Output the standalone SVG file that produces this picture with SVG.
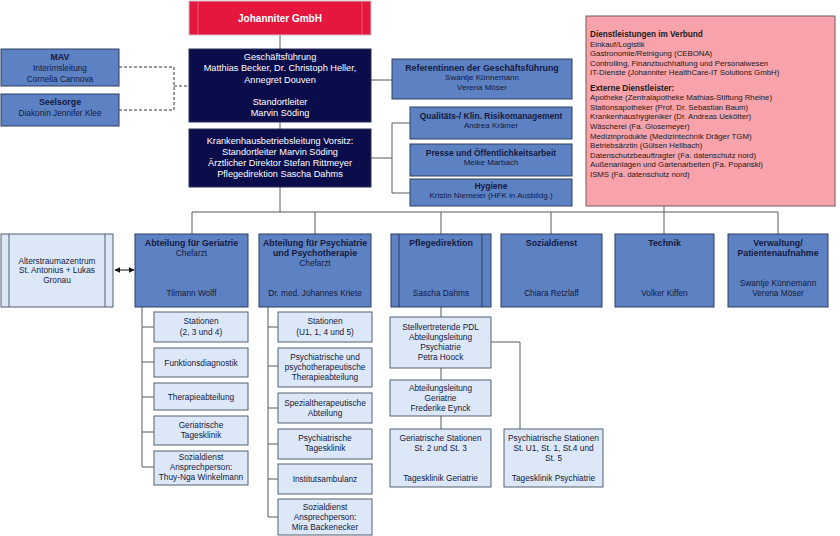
<svg xmlns="http://www.w3.org/2000/svg" width="840" height="536" viewBox="0 0 840 536">
<defs>
<style>
text{font-family:"Liberation Sans",Arial,sans-serif;font-size:8.3px;text-anchor:middle;dominant-baseline:central;fill:#14193f}
.b{font-weight:bold;font-size:8.8px}
.s{font-size:8px}
.w{fill:#ffffff}
.navy{fill:#0b0d4b;stroke:#2a2f55;stroke-width:1}
.mid{fill:#5d82c3;stroke:#2f3d5e;stroke-width:1}
.lite{fill:#dce8f7;stroke:#55606f;stroke-width:1}
.pink{fill:#f8a3ab;stroke:#6b5a5c;stroke-width:1}
.red{fill:#e5173f;stroke:#c9c0c8;stroke-width:1}
.ln{fill:none;stroke:#5a5a5a;stroke-width:1}
.dash{fill:none;stroke:#333;stroke-width:1;stroke-dasharray:3,2}
.pt text{text-anchor:start;font-size:7.8px;fill:#1a1a1a}
</style>
<marker id="ah" viewBox="0 0 10 10" refX="9" refY="5" markerWidth="6" markerHeight="6" orient="auto-start-reverse"><path d="M0,0 L10,5 L0,10 z" fill="#111"/></marker>
</defs>
<rect width="840" height="536" fill="#ffffff"/>

<g id="connectors">
<path class="ln" d="M280,35 V49 M280,122 V129 M280,187 V212 M192,212 H778 M192,212 V234 M315,212 V234 M441,212 V234 M551,212 V234 M664,206 V234 M778,212 V234"/>
<path class="ln" d="M371,80 H392"/>
<path class="ln" d="M371,158 H392 M410,123 H392 V193 H410"/>
<path class="dash" d="M119,67 H174 V110 H119 M174,86 H189"/>
<line x1="115" y1="270" x2="134" y2="270" style="stroke:#111;stroke-width:1" marker-start="url(#ah)" marker-end="url(#ah)"/>
<path class="ln" d="M142,307 V467 M142,327 H154 M142,362 H154 M142,397 H154 M142,432 H154 M142,467 H154"/>
<path class="ln" d="M268,307 V517 M268,327 H278 M268,366 H278 M268,408 H278 M268,444 H278 M268,479 H278 M268,517 H278"/>
<path class="ln" d="M441,307 V317 M441,368 V380 M441,416 V429 M491,342 H520 V429"/>
</g>

<g id="johanniter">
<rect class="red" x="189" y="1" width="182" height="34"/>
<path d="M198,1 V35 M362,1 V35" stroke="#ef6f86" stroke-width="0.8"/>
<text class="b w" x="280" y="18" style="font-size:10px">Johanniter GmbH</text>
</g>

<g id="geschaeftsfuehrung">
<rect class="navy" x="189" y="49" width="182" height="73"/>
<text class="w" x="280" y="57" style="font-size:9.2px">Geschäftsführung</text>
<text class="w" x="280" y="68" style="font-size:9.2px">Matthias Becker, Dr. Christoph Heller,</text>
<text class="w" x="280" y="80" style="font-size:9.2px">Annegret Douven</text>
<text class="w" x="280" y="102" style="font-size:9.2px">Standortleiter</text>
<text class="w" x="280" y="113" style="font-size:9.2px">Marvin Söding</text>
</g>

<g id="kbl">
<rect class="navy" x="189" y="129" width="182" height="58"/>
<text class="w" x="280" y="141" style="font-size:9.2px">Krankenhausbetriebsleitung Vorsitz:</text>
<text class="w" x="280" y="152" style="font-size:9.2px">Standortleiter Marvin Söding</text>
<text class="w" x="280" y="163" style="font-size:9.2px">Ärztlicher Direktor Stefan Rittmeyer</text>
<text class="w" x="280" y="174" style="font-size:9.2px">Pflegedirektion Sascha Dahms</text>
</g>

<g id="mav">
<rect class="mid" x="1" y="49" width="118" height="37"/>
<text class="b" x="60" y="57">MAV</text>
<text x="60" y="68">Interimsleitung</text>
<text x="60" y="79">Cornelia Cannova</text>
</g>

<g id="seelsorge">
<rect class="mid" x="1" y="94" width="118" height="32"/>
<text class="b" x="60" y="102">Seelsorge</text>
<text x="60" y="113">Diakonin Jennifer Klee</text>
</g>

<g id="referentinnen">
<rect class="mid" x="392" y="59" width="180" height="40"/>
<text class="b" x="482" y="67.5">Referentinnen der Geschäftsführung</text>
<text class="s" x="482" y="77.5">Swantje Künnemann</text>
<text class="s" x="482" y="87">Verena Möser</text>
</g>

<g id="qualitaet">
<rect class="mid" x="410" y="107" width="162" height="32"/>
<text class="b" x="491" y="115.5" style="font-size:8.5px">Qualitäts-/ Klin. Risikomanagement</text>
<text class="s" x="491" y="125.5">Andrea Krämer</text>
</g>

<g id="presse">
<rect class="mid" x="410" y="144" width="162" height="32"/>
<text class="b" x="491" y="152.5" style="font-size:8.5px">Presse und Öffentlichkeitsarbeit</text>
<text class="s" x="491" y="162.5">Meike Marbach</text>
</g>

<g id="hygiene">
<rect class="mid" x="410" y="179" width="162" height="27"/>
<text class="b" x="491" y="185.5" style="font-size:8.5px">Hygiene</text>
<text class="s" x="491" y="195.5">Kristin Niemeier (HFK in Ausbildg.)</text>
</g>

<g id="dienstleistungen" class="pt">
<rect class="pink" x="586" y="16" width="249" height="190"/>
<text x="590" y="34" style="font-weight:bold;font-size:8.2px">Dienstleistungen im Verbund</text>
<text x="590" y="44">Einkauf/Logistik</text>
<text x="590" y="53.5">Gastronomie/Reinigung (CEBONA)</text>
<text x="590" y="63">Controlling, Finanzbuchhaltung und Personalwesen</text>
<text x="590" y="72.5">IT-Dienste (Johanniter HealthCare-IT Solutions GmbH)</text>
<text x="590" y="88" style="font-weight:bold;font-size:8.2px">Externe Dienstleister:</text>
<text x="590" y="97.7">Apotheke (Zentralapotheke Mathias-Stiftung Rheine)</text>
<text x="590" y="107.3">Stationsapotheker (Prof. Dr. Sebastian Baum)</text>
<text x="590" y="116.9">Krankenhaushygieniker (Dr. Andreas Uekötter)</text>
<text x="590" y="126.5">Wäscherei (Fa. Glosemeyer)</text>
<text x="590" y="136.1">Medizinprodukte (Medizintechnik Dräger TGM)</text>
<text x="590" y="145.7">Betriebsärztin (Gülsen Hellbach)</text>
<text x="590" y="155.3">Datenschutzbeauftragter (Fa. datenschutz nord)</text>
<text x="590" y="164.9">Außenanlagen und Gartenarbeiten (Fa. Popanski)</text>
<text x="590" y="174.5">ISMS (Fa. datenschutz nord)</text>
</g>

<g id="alterstraumazentrum">
<rect class="lite" x="1" y="234" width="112" height="73"/>
<path d="M9,234 V307 M105,234 V307" stroke="#55606f" stroke-width="1"/>
<text x="57" y="261">Alterstraumazentrum</text>
<text x="57" y="270">St. Antonius  + Lukas</text>
<text x="57" y="280">Gronau</text>
</g>

<g id="geriatrie">
<rect class="mid" x="135" y="234" width="113" height="73"/>
<text class="b" x="191.5" y="243">Abteilung für Geriatrie</text>
<text x="191.5" y="253">Chefarzt</text>
<text x="191.5" y="293">Tilmann Wolff</text>
</g>

<g id="psychiatrie">
<rect class="mid" x="259" y="234" width="112" height="73"/>
<text class="b" x="315" y="243">Abteilung für Psychiatrie</text>
<text class="b" x="315" y="253">und Psychotherapie</text>
<text x="315" y="263">Chefarzt</text>
<text x="315" y="293">Dr. med. Johannes Kriete</text>
</g>

<g id="pflegedirektion">
<rect class="mid" x="391" y="234" width="100" height="73"/>
<path d="M399,234 V307 M482,234 V307" stroke="#2f3d5e" stroke-width="1"/>
<text class="b" x="441" y="243">Pflegedirektion</text>
<text x="441" y="293">Sascha Dahms</text>
</g>

<g id="sozialdienst">
<rect class="mid" x="501" y="234" width="101" height="73"/>
<text class="b" x="551.5" y="243">Sozialdienst</text>
<text x="551.5" y="293">Chiara Retzlaff</text>
</g>

<g id="technik">
<rect class="mid" x="615" y="234" width="99" height="73"/>
<text class="b" x="664.5" y="243">Technik</text>
<text x="664.5" y="293">Volker Kiffen</text>
</g>

<g id="verwaltung">
<rect class="mid" x="728" y="234" width="100" height="73"/>
<text class="b" x="778" y="243">Verwaltung/</text>
<text class="b" x="778" y="253">Patientenaufnahme</text>
<text x="778" y="283">Swantje Künnemann</text>
<text x="778" y="293">Verena Möser</text>
</g>

<g id="ger-stationen">
<rect class="lite" x="154" y="312" width="94" height="30"/>
<text x="201" y="321">Stationen</text>
<text x="201" y="332">(2, 3 und 4)</text>
</g>
<g id="ger-funktion">
<rect class="lite" x="154" y="348" width="94" height="29"/>
<text x="201" y="363">Funktionsdiagnostik</text>
</g>
<g id="ger-therapie">
<rect class="lite" x="154" y="383" width="94" height="27"/>
<text x="201" y="397">Therapieabteilung</text>
</g>
<g id="ger-tagesklinik">
<rect class="lite" x="154" y="416" width="94" height="29"/>
<text x="201" y="425">Geriatrische</text>
<text x="201" y="435">Tagesklinik</text>
</g>
<g id="ger-sozial">
<rect class="lite" x="154" y="451" width="94" height="34"/>
<text x="201" y="457">Sozialdienst</text>
<text x="201" y="467">Ansprechperson:</text>
<text x="201" y="477">Thuy-Nga Winkelmann</text>
</g>

<g id="psy-stationen">
<rect class="lite" x="278" y="312" width="94" height="30"/>
<text x="325" y="321">Stationen</text>
<text x="325" y="332">(U1, 1, 4 und 5)</text>
</g>
<g id="psy-therapie">
<rect class="lite" x="278" y="348" width="94" height="39"/>
<text x="325" y="357">Psychiatrische und</text>
<text x="325" y="367">psychotherapeutische</text>
<text x="325" y="377">Therapieabteilung</text>
</g>
<g id="psy-spezial">
<rect class="lite" x="278" y="393" width="94" height="30"/>
<text x="325" y="403">Spezialtherapeutische</text>
<text x="325" y="413">Abteilung</text>
</g>
<g id="psy-tagesklinik">
<rect class="lite" x="278" y="429" width="94" height="30"/>
<text x="325" y="438">Psychiatrische</text>
<text x="325" y="448">Tagesklinik</text>
</g>
<g id="psy-ambulanz">
<rect class="lite" x="278" y="464" width="94" height="30"/>
<text x="325" y="479">Institutsambulanz</text>
</g>
<g id="psy-sozial">
<rect class="lite" x="278" y="499" width="94" height="36"/>
<text x="325" y="507">Sozialdienst</text>
<text x="325" y="517">Ansprechperson:</text>
<text x="325" y="527">Mira Backenecker</text>
</g>

<g id="pdl-stellv">
<rect class="lite" x="390" y="317" width="101" height="51"/>
<text x="440.5" y="327">Stellvertretende PDL</text>
<text x="440.5" y="337">Abteilungsleitung</text>
<text x="440.5" y="347">Psychiatrie</text>
<text x="440.5" y="357">Petra Hoock</text>
</g>
<g id="al-geriatrie">
<rect class="lite" x="390" y="380" width="101" height="36"/>
<text x="440.5" y="388">Abteilungsleitung</text>
<text x="440.5" y="398">Geriatrie</text>
<text x="440.5" y="408">Frederike Eynck</text>
</g>
<g id="ger-stat-pflege">
<rect class="lite" x="390" y="429" width="101" height="58"/>
<text x="440.5" y="438">Geriatrische Stationen</text>
<text x="440.5" y="448">St. 2 und St. 3</text>
<text x="440.5" y="478">Tagesklinik  Geriatrie</text>
</g>
<g id="psy-stat-pflege">
<rect class="lite" x="504" y="429" width="99" height="58"/>
<text x="553.5" y="438">Psychiatrische Stationen</text>
<text x="553.5" y="448">St. U1, St. 1, St.4  und</text>
<text x="553.5" y="458">St. 5</text>
<text x="553.5" y="478">Tagesklinik Psychiatrie</text>
</g>
</svg>
